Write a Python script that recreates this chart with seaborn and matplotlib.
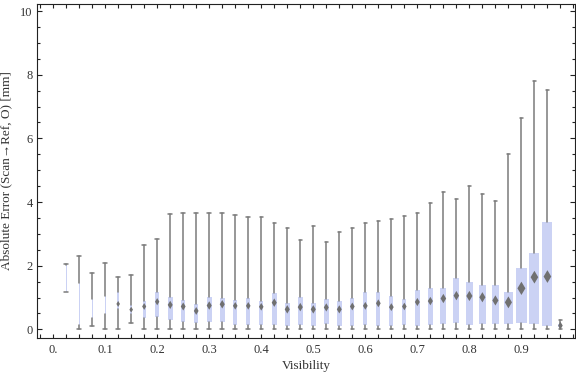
import matplotlib
matplotlib.use("Agg")
import matplotlib.pyplot as plt
import numpy as np
import seaborn as sns
from matplotlib.ticker import MultipleLocator, FixedLocator, FixedFormatter

# visibility bins (box centres)
visibility = [0.025, 0.05, 0.075, 0.1, 0.125, 0.15, 0.175, 0.2, 0.225, 0.25,
              0.275, 0.3, 0.325, 0.35, 0.375, 0.4, 0.425, 0.45, 0.475, 0.5,
              0.525, 0.55, 0.575, 0.6, 0.625, 0.65, 0.675, 0.7, 0.725, 0.75,
              0.775, 0.8, 0.825, 0.85, 0.875, 0.9, 0.925, 0.95, 0.975]

# box-whisker statistics [mm]
whisk_lo = [1.16, 0.01, 0.11, 0.01, 0.02, 0.21, 0.00, 0.00, 0.00, 0.00,
            0.00, 0.00, 0.00, 0.00, 0.00, 0.00, 0.00, 0.00, 0.00, 0.00,
            0.00, 0.00, 0.00, 0.00, 0.00, 0.00, 0.00, 0.00, 0.00, 0.00,
            0.00, 0.00, 0.00, 0.00, 0.00, 0.00, 0.00, 0.00, 0.00]
q1 = [1.18, 0.13, 0.37, 0.49, 0.64, 0.48, 0.37, 0.38, 0.28, 0.22,
      0.21, 0.24, 0.24, 0.15, 0.15, 0.15, 0.15, 0.11, 0.15, 0.10,
      0.17, 0.10, 0.10, 0.14, 0.10, 0.10, 0.14, 0.10, 0.14, 0.17,
      0.20, 0.15, 0.18, 0.17, 0.18, 0.21, 0.18, 0.11, 0.08]
median = [1.60, 0.71, 0.70, 0.72, 0.80, 0.62, 0.72, 0.87, 0.77, 0.72,
          0.58, 0.75, 0.79, 0.74, 0.74, 0.71, 0.84, 0.63, 0.70, 0.63,
          0.69, 0.63, 0.72, 0.74, 0.82, 0.70, 0.72, 0.86, 0.89, 0.97,
          1.06, 1.05, 1.01, 0.91, 0.85, 1.29, 1.64, 1.66, 0.12]
q3 = [2.03, 1.46, 0.95, 1.06, 1.17, 0.76, 0.89, 1.16, 1.01, 0.92,
      0.79, 1.01, 0.98, 0.92, 0.98, 0.89, 1.14, 0.83, 1.01, 0.83,
      0.95, 0.89, 0.98, 1.17, 1.17, 1.05, 0.95, 1.23, 1.30, 1.30,
      1.61, 1.49, 1.38, 1.38, 1.19, 1.93, 2.39, 3.37, 0.17]
whisk_hi = [2.05, 2.30, 1.77, 2.08, 1.66, 1.71, 2.64, 2.83, 3.64, 3.67,
            3.67, 3.67, 3.67, 3.58, 3.52, 3.52, 3.33, 3.17, 2.80, 3.25,
            2.76, 3.05, 3.17, 3.33, 3.39, 3.46, 3.56, 3.67, 3.96, 4.30,
            4.08, 4.49, 4.24, 4.02, 5.50, 6.63, 7.79, 7.51, 0.31]

x_tick_pos = [0.0, 0.1, 0.2, 0.3, 0.4, 0.5, 0.6, 0.7, 0.8, 0.9]
x_tick_labels = ["0.", "0.1", "0.2", "0.3", "0.4", "0.5", "0.6", "0.7", "0.8", "0.9"]

# styling: box widths in pixels (boxes are narrower where there is little data)
box_px = [1, 1, 1, 1, 2, 2, 3, 3.5, 4.7, 4.5,
          4.3, 5, 5, 4, 4, 4, 5, 5, 5, 5,
          4.7, 4.7, 4.3, 4.3, 4.3, 4.3, 4, 4.7, 5, 6,
          6, 7, 7, 7, 9, 10.7, 10, 10, 4]
px_per_unit = 520.0  # 1.0 visibility = 520 px
box_col = "#cbd2f4"
whisk_col = "#7a7a7a"

sns.set_theme(style="ticks")
plt.rcParams["font.family"] = ["Liberation Serif", "DejaVu Serif"]

fig = plt.figure(figsize=(5.76, 3.77), dpi=100)
ax = fig.add_axes([37 / 576, 39 / 377, 538 / 576, 334 / 377])

stats = []
for i in range(len(visibility)):
    stats.append({"whislo": whisk_lo[i], "q1": q1[i], "med": median[i],
                  "q3": q3[i], "whishi": whisk_hi[i]})

widths = [w / px_per_unit for w in box_px]
ax.bxp(stats, positions=visibility, widths=widths, capwidths=3.5 / px_per_unit,
       showfliers=False, patch_artist=True, manage_ticks=False,
       boxprops=dict(facecolor=box_col, edgecolor="none", linewidth=0),
       whiskerprops=dict(color=whisk_col, linewidth=1.1),
       capprops=dict(color=whisk_col, linewidth=1.1),
       medianprops=dict(linewidth=0))

# median diamonds, size follows box width (height in px ~ 0.6*w + 3);
# the hairline boxes show no marker
msize = [((0.6 * w + 3) * 72 / 100) ** 2 if w >= 2 else 0 for w in box_px]
sns.scatterplot(x=visibility, y=median, marker="d", s=msize, color="#707070",
                edgecolor="none", linewidth=0, ax=ax, zorder=5)

ax.set_xlim(-0.031, 1.003)
ax.set_ylim(-0.27, 10.22)

ax.xaxis.set_major_locator(FixedLocator(x_tick_pos))
ax.xaxis.set_major_formatter(FixedFormatter(x_tick_labels))
ax.xaxis.set_minor_locator(MultipleLocator(0.025))
ax.yaxis.set_major_locator(MultipleLocator(2))
ax.yaxis.set_minor_locator(MultipleLocator(0.5))

ax.tick_params(axis="both", which="both", direction="in", top=True, right=True,
               colors="#222222", labelcolor="#333333", labelsize=9, width=0.8)
ax.tick_params(axis="x", which="both", length=3, pad=4)
ax.tick_params(axis="y", which="major", length=3.8, pad=3)
ax.tick_params(axis="y", which="minor", length=2.2)

for sp in ax.spines.values():
    sp.set_color("#222222")
    sp.set_linewidth(0.8)

ax.set_xlabel("Visibility", fontsize=9.5, color="#333333", labelpad=3)
ax.set_ylabel("Absolute Error (Scan→Ref, O) [mm]", fontsize=9.5, color="#333333", labelpad=6)

fig.savefig("out.png", dpi=100)
